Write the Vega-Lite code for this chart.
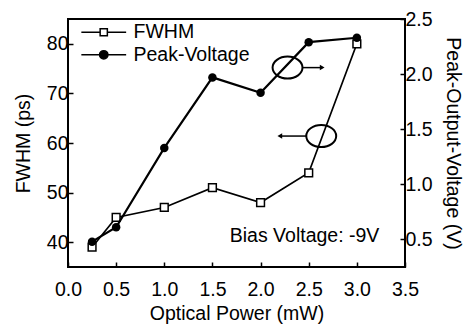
{
  "$schema": "https://vega.github.io/schema/vega-lite/v6.json",
  "width": 337,
  "height": 248,
  "autosize": "none",
  "padding": {"left": 68, "top": 19, "right": 61, "bottom": 61},
  "config": {
    "font": "Liberation Sans",
    "view": {"stroke": "black", "strokeWidth": 2},
    "axis": {
      "grid": false, "domain": false, "tickColor": "black", "tickWidth": 1.5, "labelFlush": false,
      "labelColor": "black", "titleColor": "black", "labelFontSize": 19.5, "titleFontSize": 19.5,
      "titleFontWeight": "normal", "labelFont": "Liberation Sans", "titleFont": "Liberation Sans"
    }
  },
  "data": {
    "values": [
      {"power": 0.25, "fwhm": 39.0, "voltage": 0.48},
      {"power": 0.5, "fwhm": 45.0, "voltage": 0.61},
      {"power": 1.0, "fwhm": 47.0, "voltage": 1.33},
      {"power": 1.5, "fwhm": 51.0, "voltage": 1.97},
      {"power": 2.0, "fwhm": 48.0, "voltage": 1.83},
      {"power": 2.5, "fwhm": 54.0, "voltage": 2.29},
      {"power": 3.0, "fwhm": 80.0, "voltage": 2.33}
    ]
  },
  "layer": [
    {
      "layer": [
        {
          "mark": {"type": "line", "color": "black", "strokeWidth": 1.7},
          "encoding": {
            "x": {"field": "power", "type": "quantitative", "scale": {"domain": [0, 3.5], "nice": false},
              "axis": {"values": [0, 0.5, 1, 1.5, 2, 2.5, 3, 3.5], "format": ".1f", "title": "Optical Power (mW)", "tickSize": -5, "labelPadding": 18, "titlePadding": 6}},
            "y": {"field": "fwhm", "type": "quantitative", "scale": {"domain": [35, 85], "nice": false, "zero": false},
              "axis": {"values": [40, 50, 60, 70, 80], "title": "FWHM (ps)", "tickSize": -5, "labelPadding": 5, "titlePadding": 13}}
          }
        },
        {
          "mark": {"type": "point", "shape": "square", "filled": true, "fill": "white", "stroke": "black", "strokeWidth": 1.5, "size": 60, "opacity": 1},
          "encoding": {
            "x": {"field": "power", "type": "quantitative"},
            "y": {"field": "fwhm", "type": "quantitative"}
          }
        },
        {
          "data": {"values": [{"series": "FWHM"}, {"series": "Peak-Voltage"}]},
          "mark": {"type": "point", "filled": true, "strokeWidth": 1.5, "opacity": 0},
          "encoding": {
            "x": {"datum": 1},
            "y": {"datum": 60},
            "shape": {"field": "series", "type": "nominal",
              "scale": {"domain": ["FWHM", "Peak-Voltage"], "range": ["M-5.6,0L-0.9,0M0.9,0L5.6,0M-0.9,-0.9L0.9,-0.9L0.9,0.9L-0.9,0.9Z", "M-5.6,0L5.6,0M-1.05,0A1.05,1.05,0,1,0,1.05,0A1.05,1.05,0,1,0,-1.05,0Z"]},
              "legend": {"title": null, "orient": "none", "legendX": 26, "legendY": 3.5, "symbolSize": 64, "labelOffset": 20,
                "labelFontSize": 19.5, "labelFont": "Liberation Sans", "labelColor": "black", "rowPadding": 1.6, "padding": 0,
                "symbolStrokeWidth": 1.5, "symbolOpacity": 1}},
            "fill": {"field": "series", "type": "nominal",
              "scale": {"domain": ["FWHM", "Peak-Voltage"], "range": ["white", "black"]},
              "legend": {"title": null, "orient": "none", "legendX": 26, "legendY": 3.5, "symbolSize": 64, "labelOffset": 20,
                "labelFontSize": 19.5, "labelFont": "Liberation Sans", "labelColor": "black", "rowPadding": 1.6, "padding": 0,
                "symbolStrokeWidth": 1.5, "symbolOpacity": 1}},
            "stroke": {"field": "series", "type": "nominal",
              "scale": {"domain": ["FWHM", "Peak-Voltage"], "range": ["black", "black"]},
              "legend": {"title": null, "orient": "none", "legendX": 26, "legendY": 3.5, "symbolSize": 64, "labelOffset": 20,
                "labelFontSize": 19.5, "labelFont": "Liberation Sans", "labelColor": "black", "rowPadding": 1.6, "padding": 0,
                "symbolStrokeWidth": 1.5, "symbolOpacity": 1}}
          }
        },
        {
          "data": {"values": [{}]},
          "mark": {"type": "point", "shape": "M-1.36,0A1.36,1,0,1,1,1.36,0A1.36,1,0,1,1,-1.36,0Z", "filled": false, "stroke": "black", "strokeWidth": 2, "size": 484, "opacity": 1},
          "encoding": {"x": {"datum": 2.28}, "y": {"datum": 75.2}}
        },
        {
          "data": {"values": [{}]},
          "mark": {"type": "point", "shape": "M-1.36,0A1.36,1,0,1,1,1.36,0A1.36,1,0,1,1,-1.36,0Z", "filled": false, "stroke": "black", "strokeWidth": 2, "size": 484, "opacity": 1},
          "encoding": {"x": {"datum": 2.63}, "y": {"datum": 61.4}}
        },
        {
          "data": {"values": [{}]},
          "mark": {"type": "rule", "color": "black", "strokeWidth": 1.5},
          "encoding": {"x": {"datum": 2.44}, "x2": {"datum": 2.63}, "y": {"datum": 75.2}}
        },
        {
          "data": {"values": [{}]},
          "mark": {"type": "point", "shape": "triangle-right", "filled": true, "color": "black", "size": 30, "opacity": 1},
          "encoding": {"x": {"datum": 2.64}, "y": {"datum": 75.2}}
        },
        {
          "data": {"values": [{}]},
          "mark": {"type": "rule", "color": "black", "strokeWidth": 1.5},
          "encoding": {"x": {"datum": 2.48}, "x2": {"datum": 2.21}, "y": {"datum": 61.4}}
        },
        {
          "data": {"values": [{}]},
          "mark": {"type": "point", "shape": "triangle-left", "filled": true, "color": "black", "size": 30, "opacity": 1},
          "encoding": {"x": {"datum": 2.2}, "y": {"datum": 61.4}}
        },
        {
          "data": {"values": [{}]},
          "mark": {"type": "text", "text": "Bias Voltage: -9V", "align": "left", "baseline": "middle", "font": "Liberation Sans", "fontSize": 19.5, "color": "black"},
          "encoding": {"x": {"datum": 1.68}, "y": {"datum": 41.2}}
        }
      ]
    },
    {
      "layer": [
        {
          "mark": {"type": "line", "color": "black", "strokeWidth": 2.2},
          "encoding": {
            "x": {"field": "power", "type": "quantitative"},
            "y": {"field": "voltage", "type": "quantitative", "scale": {"domain": [0.25, 2.5], "nice": false, "zero": false},
              "axis": {"orient": "right", "values": [0.5, 0.75, 1, 1.25, 1.5, 1.75, 2, 2.25, 2.5],
                "labelExpr": "datum.value % 0.5 === 0 ? format(datum.value, '.1f') : ''",
                "tickSize": -5, "labelPadding": 5, "titlePadding": 10, "title": "Peak-Output-Voltage (V)"}}
          }
        },
        {
          "mark": {"type": "point", "shape": "circle", "filled": true, "color": "black", "size": 72, "opacity": 1},
          "encoding": {
            "x": {"field": "power", "type": "quantitative"},
            "y": {"field": "voltage", "type": "quantitative"}
          }
        }
      ]
    }
  ],
  "resolve": {"scale": {"y": "independent"}}
}
